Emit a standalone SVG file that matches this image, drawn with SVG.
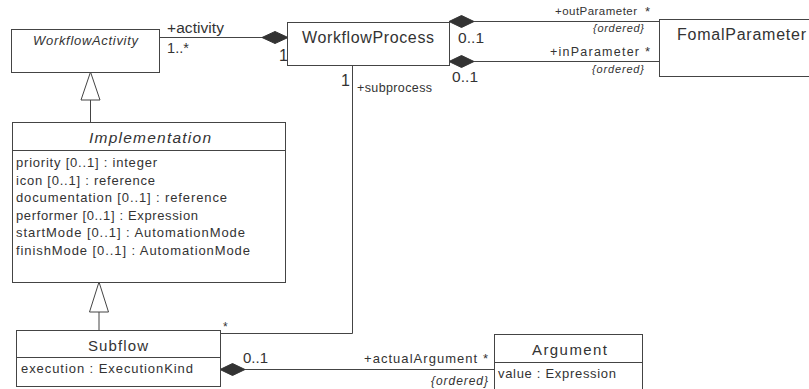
<svg xmlns="http://www.w3.org/2000/svg" width="809" height="389" viewBox="0 0 809 389">
<style>
.box{fill:#fff;stroke:#444;stroke-width:1}
.ln{fill:none;stroke:#444;stroke-width:1}
.dia{fill:#333;stroke:#333;stroke-width:1}
.tri{fill:#fff;stroke:#444;stroke-width:1}
text{font-family:"Liberation Sans",Arial,sans-serif;fill:#333}
.it{font-style:italic}
</style>
<rect width="809" height="389" fill="#fff"/>
<g id="connectors">
  <line class="ln" x1="159" y1="37.5" x2="263" y2="37.5"/>
  <polygon class="dia" points="262,37.5 275,31.5 288,37.5 275,43.5"/>
  <line class="ln" x1="474" y1="21.5" x2="659" y2="21.5"/>
  <polygon class="dia" points="449,21.5 461.5,15.5 474,21.5 461.5,27.5"/>
  <line class="ln" x1="474" y1="61.5" x2="659" y2="61.5"/>
  <polygon class="dia" points="449,61.5 461.5,55.5 474,61.5 461.5,67.5"/>
  <polyline class="ln" points="352.5,65 352.5,333.5 220,333.5"/>
  <line class="ln" x1="245" y1="369.5" x2="495" y2="369.5"/>
  <polygon class="dia" points="220,369.5 232.5,363.5 245,369.5 232.5,375.5"/>
  <line class="ln" x1="90.5" y1="100" x2="90.5" y2="122"/>
  <polygon class="tri" points="90.5,72 100,100 81,100"/>
  <line class="ln" x1="99" y1="312" x2="99" y2="330"/>
  <polygon class="tri" points="99,282 108.5,312 89.5,312"/>
  <text x="167" y="33" font-size="15.5" textLength="57" lengthAdjust="spacing">+activity</text>
  <text x="167" y="53" font-size="14.5" textLength="22" lengthAdjust="spacing">1..*</text>
  <text x="279" y="61" font-size="16">1</text>
  <text x="555" y="15" font-size="11.5" textLength="82" lengthAdjust="spacing">+outParameter</text>
  <text x="645" y="16" font-size="13">*</text>
  <text class="it" x="593" y="32" font-size="11" textLength="51" lengthAdjust="spacing">{ordered}</text>
  <text x="458" y="43" font-size="15.5" textLength="26" lengthAdjust="spacing">0..1</text>
  <text x="550" y="56" font-size="12.5" textLength="89" lengthAdjust="spacing">+inParameter</text>
  <text x="645" y="56" font-size="13">*</text>
  <text class="it" x="592" y="73" font-size="11" textLength="52" lengthAdjust="spacing">{ordered}</text>
  <text x="452" y="82" font-size="15.5" textLength="26" lengthAdjust="spacing">0..1</text>
  <text x="341" y="86" font-size="16">1</text>
  <text x="357" y="92" font-size="12.5" textLength="75" lengthAdjust="spacing">+subprocess</text>
  <text x="223" y="331" font-size="12">*</text>
  <text x="243" y="363" font-size="15" textLength="25" lengthAdjust="spacing">0..1</text>
  <text x="364" y="363" font-size="13" textLength="124" lengthAdjust="spacing">+actualArgument *</text>
  <text class="it" x="431" y="385" font-size="12" textLength="57" lengthAdjust="spacing">{ordered}</text>
</g>
<g id="WorkflowActivity">
  <rect class="box" x="11.5" y="29.5" width="148" height="43"/>
  <text class="it" x="33" y="45" font-size="13" textLength="105" lengthAdjust="spacing">WorkflowActivity</text>
</g>
<g id="WorkflowProcess">
  <rect class="box" x="287.5" y="22.5" width="162" height="43"/>
  <text x="302" y="43" font-size="16" textLength="132" lengthAdjust="spacing">WorkflowProcess</text>
</g>
<g id="FomalParameter">
  <rect class="box" x="659.5" y="19.5" width="160" height="57"/>
  <text x="677" y="40" font-size="16" textLength="129" lengthAdjust="spacing">FomalParameter</text>
</g>
<g id="Implementation">
  <rect class="box" x="12.5" y="122.5" width="273" height="160"/>
  <line class="ln" x1="12.5" y1="150.5" x2="285.5" y2="150.5"/>
  <text class="it" x="89" y="143" font-size="15.5" textLength="122" lengthAdjust="spacing">Implementation</text>
  <text x="16" y="167" font-size="13" textLength="141" lengthAdjust="spacing">priority [0..1] : integer</text>
  <text x="16" y="184.5" font-size="13" textLength="139" lengthAdjust="spacing">icon [0..1] : reference</text>
  <text x="16" y="202" font-size="13" textLength="211" lengthAdjust="spacing">documentation [0..1] : reference</text>
  <text x="16" y="219.5" font-size="13" textLength="182" lengthAdjust="spacing">performer [0..1] : Expression</text>
  <text x="16" y="237" font-size="13" textLength="229" lengthAdjust="spacing">startMode [0..1] : AutomationMode</text>
  <text x="16" y="254.5" font-size="13" textLength="234" lengthAdjust="spacing">finishMode [0..1] : AutomationMode</text>
</g>
<g id="Subflow">
  <rect class="box" x="16.5" y="330.5" width="204" height="56"/>
  <line class="ln" x1="16.5" y1="357.5" x2="220.5" y2="357.5"/>
  <text x="88" y="351" font-size="15" textLength="60" lengthAdjust="spacing">Subflow</text>
  <text x="21" y="373" font-size="13" textLength="172" lengthAdjust="spacing">execution : ExecutionKind</text>
</g>
<g id="Argument">
  <rect class="box" x="494.5" y="334.5" width="148" height="60"/>
  <line class="ln" x1="494.5" y1="362.5" x2="642.5" y2="362.5"/>
  <text x="532" y="355" font-size="15" textLength="75" lengthAdjust="spacing">Argument</text>
  <text x="498" y="378" font-size="13" textLength="118" lengthAdjust="spacing">value : Expression</text>
</g>
</svg>
